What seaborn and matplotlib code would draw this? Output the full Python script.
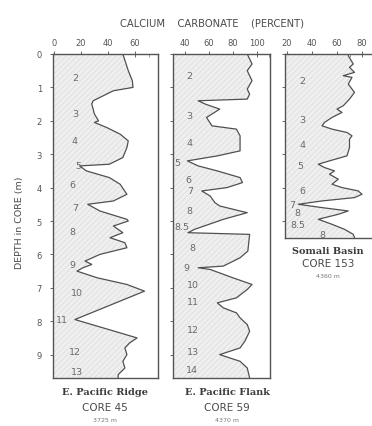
import numpy as np
import pandas as pd
import matplotlib
matplotlib.use("Agg")
import matplotlib.pyplot as plt
import seaborn as sns
from matplotlib.ticker import MultipleLocator, FixedLocator

sns.set_style("white")
plt.rcParams['font.family'] = ['DejaVu Sans']
plt.rcParams['hatch.linewidth'] = 0.4
plt.rcParams['hatch.color'] = '#d4d4d4'

# ---------------- data ----------------
core45_depth = [0, 0.5, 0.8, 1.0, 1.1, 1.4, 1.5, 1.8, 2.0, 2.05, 2.2, 2.4, 2.6, 2.8, 3.1,
                3.3, 3.35, 3.5, 3.7, 3.9, 4.2, 4.4, 4.5, 4.7, 4.95, 5.0, 5.15, 5.35, 5.5,
                5.65, 5.8, 6.0, 6.2, 6.3, 6.4, 6.5, 6.7, 6.9, 7.1, 7.95, 8.5, 8.65, 8.8,
                9.0, 9.2, 9.4, 9.6, 9.7]
core45_caco3 = [51, 55, 58, 58.5, 44, 29, 28, 30, 33, 30, 39, 49, 55, 54, 51,
                41, 19, 24, 41, 49, 54, 44, 25, 34, 54, 55, 44, 51, 41.5,
                52.5, 54, 34, 23, 28, 21.5, 17, 32, 54, 67, 15.5, 61.5, 56, 52.5,
                54, 51, 52.5, 47.5, 47.5]

core59_depth = [0, 0.3, 0.5, 0.8, 1.05, 1.2, 1.35, 1.4, 1.5, 1.65, 1.9, 2.15, 2.25, 2.45,
                2.9, 3.05, 3.2, 3.35, 3.5, 3.7, 3.85, 4.0, 4.1, 4.25, 4.45, 4.55, 4.7,
                4.75, 4.95, 5.25, 5.35, 5.4, 5.9, 6.1, 6.35, 6.4, 6.45, 6.7, 6.9, 7.05,
                7.3, 7.45, 7.6, 7.75, 7.9, 8.1, 8.3, 8.6, 8.8, 9.0, 9.2, 9.4, 9.7]
core59_caco3 = [92, 96, 92, 96, 92, 94, 92, 51, 57, 69, 58, 62.5, 83, 86,
                86, 67, 42, 51, 67, 86, 88, 75, 54, 61, 65, 69, 86,
                92, 72, 48, 42.5, 94, 92.5, 86, 72, 51, 61, 80, 96, 92,
                83, 67, 72, 83, 86, 92, 94, 90, 86, 69, 86, 92, 94]

core153_depth = [0, 0.05, 0.3, 0.4, 0.55, 0.65, 0.7, 0.9, 1.15, 1.35, 1.55, 1.65, 1.75,
                 1.9, 2.05, 2.15, 2.25, 2.35, 2.45, 2.55, 2.8, 3.05, 3.2, 3.3, 3.4, 3.5,
                 3.6, 3.75, 3.9, 4.0, 4.1, 4.2, 4.3, 4.4, 4.5, 4.6, 4.7, 4.8, 4.95, 5.1,
                 5.25, 5.4, 5.5]
core153_caco3 = [69, 69, 73, 70, 74, 65, 72, 69, 74, 70, 65, 60, 64,
                 56, 50, 48, 56, 68, 72, 70, 70, 68, 54, 45, 50, 58,
                 54, 61, 56, 64, 77, 80, 74, 48, 29, 48, 69, 61, 45, 56,
                 66, 73, 74]

core45_stage = ['2', '3', '4', '5', '6', '7', '8', '9', '10', '11', '12', '13']
core45_stage_depth = [0.7, 1.77, 2.6, 3.35, 3.9, 4.6, 5.3, 6.3, 7.15, 7.95, 8.9, 9.5]
core45_stage_x = [15.5, 15.5, 15.5, 18, 14, 15.5, 14, 14, 17, 6, 15.5, 17]

core59_stage = ['2', '3', '4', '5', '6', '7', '8', '8.5', '8', '9', '10', '11', '12', '13', '14']
core59_stage_depth = [0.63, 1.85, 2.65, 3.25, 3.75, 4.1, 4.7, 5.15, 5.8, 6.4, 6.9, 7.4, 8.25, 8.9, 9.45]
core59_stage_x = [44, 44, 44, 33.5, 42.5, 44, 44, 37.5, 46, 41.5, 46.5, 46.5, 46.5, 46.5, 46]

core153_stage = ['2', '3', '4', '5', '6', '7', '8', '8.5', '8']
core153_stage_depth = [0.78, 1.97, 2.7, 3.35, 4.1, 4.5, 4.75, 5.1, 5.42]
core153_stage_x = [32, 32, 32, 30.5, 32, 24, 28, 29, 48]

core_names = ['E. Pacific Ridge', 'E. Pacific Flank', 'Somali Basin']
core_ids = ['CORE 45', 'CORE 59', 'CORE 153']
core_water = ['3725 m', '4370 m', '4360 m']

top_ticks = [[0, 20, 40, 60], [40, 60, 80, 100], [20, 40, 60, 80]]

# ---------------- figure ----------------
W, H = 372, 427
fig = plt.figure(figsize=(W / 100, H / 100), dpi=100)

def box(l, r, t, b):
    return [l / W, 1 - b / H, (r - l) / W, (b - t) / H]

ax_rects = [box(53, 158, 55, 379), box(173, 270, 55, 379), box(285, 375, 55, 239)]
xlims = [(-0.7, 77), (30, 111), (18.4, 90.4)]
ylims = [(9.7, 0), (9.7, 0), (5.51, 0)]

series = [(core45_depth, core45_caco3), (core59_depth, core59_caco3), (core153_depth, core153_caco3)]
stages = [(core45_stage, core45_stage_depth, core45_stage_x),
          (core59_stage, core59_stage_depth, core59_stage_x),
          (core153_stage, core153_stage_depth, core153_stage_x)]

line_col = '#505050'
text_col = '#4a4a4a'

axes = []
for i in range(3):
    ax = fig.add_axes(ax_rects[i])
    d, c = series[i]
    df = pd.DataFrame({'depth': d, 'caco3': c})
    ax.fill_betweenx(df['depth'], xlims[i][0], df['caco3'], facecolor='#efefef',
                     edgecolor='#d6d6d6', hatch='//////', linewidth=0)
    sns.lineplot(data=df, x='caco3', y='depth', orient='y', sort=False, ax=ax,
                 color=line_col, linewidth=0.9, estimator=None)
    ax.set_xlim(*xlims[i])
    ax.set_ylim(*ylims[i])
    ax.set_xlabel('')
    ax.set_ylabel('')
    for s in ax.spines.values():
        s.set_color('#555555')
        s.set_linewidth(1.0)
    if i == 2:
        ax.spines['right'].set_visible(False)
    ax.xaxis.tick_top()
    ax.xaxis.set_major_locator(FixedLocator(top_ticks[i]))
    ax.xaxis.set_minor_locator(MultipleLocator(10))
    ax.yaxis.set_major_locator(MultipleLocator(1))
    ax.yaxis.set_minor_locator(MultipleLocator(0.2))
    ax.tick_params(axis='x', which='major', top=True, bottom=False, direction='inout',
                   length=4, width=0.7, color='#666666', labelsize=6, labelcolor='#555555', pad=3)
    ax.tick_params(axis='x', which='minor', top=True, bottom=False, direction='in',
                   length=2, width=0.6, color='#888888')
    ax.tick_params(axis='y', which='major', left=True, direction='inout', length=4,
                   width=0.7, color='#666666', labelsize=6, labelcolor='#555555', pad=6)
    ax.tick_params(axis='y', which='minor', left=True, direction='in', length=1.5,
                   width=0.6, color='#888888')
    if i != 0:
        ax.tick_params(axis='y', which='both', labelleft=False)
    lab, sd, sx = stages[i]
    for t, yy, xx in zip(lab, sd, sx):
        ax.text(xx, yy, t, ha='center', va='center', fontsize=6.8, color='#6a6a6a')
    axes.append(ax)

fig.text(212 / W, 1 - 23 / H, 'CALCIUM    CARBONATE    (PERCENT)', ha='center', va='center',
         fontsize=7.2, color=text_col)
fig.text(20 / W, 1 - 223 / H, 'DEPTH in CORE (m)', rotation=90, ha='center', va='center',
         fontsize=6.8, color=text_col)

label_x = [105, 227, 328]
label_y = [(393, 408, 421), (393, 408, 421), (252, 264, 277)]
for i in range(3):
    ly = label_y[i]
    fig.text(label_x[i] / W, 1 - ly[0] / H, core_names[i], ha='center', va='center',
             fontsize=7, fontweight='bold', family='DejaVu Serif', color='#3a3a3a')
    fig.text(label_x[i] / W, 1 - ly[1] / H, core_ids[i], ha='center', va='center',
             fontsize=7.5, color=text_col)
    fig.text(label_x[i] / W, 1 - ly[2] / H, core_water[i], ha='center', va='center',
             fontsize=4.5, color='#777777')

fig.savefig('out.png', dpi=100)
